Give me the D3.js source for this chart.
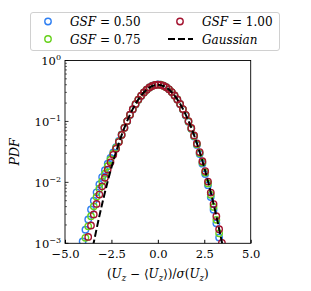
<!DOCTYPE html>
<html>
<head>
<meta charset="utf-8">
<script src="https://cdn.jsdelivr.net/npm/d3@7/dist/d3.min.js"></script>
<style>
  body { margin: 0; background: #fff; }
  svg text { font-family: "DejaVu Serif", "Liberation Serif", serif; fill: #000; }
</style>
</head>
<body>
<svg id="chart" width="311" height="291"></svg>
<script>
// bin centres shared by the three GSF series
var binX = [-4.2, -4.05, -3.9, -3.75, -3.6, -3.45, -3.3, -3.15, -3.0, -2.85, -2.7, -2.55, -2.4, -2.25, -2.1,
  -1.95, -1.8, -1.65, -1.5, -1.35, -1.2, -1.05, -0.9, -0.75, -0.6, -0.45, -0.3, -0.15, 0,
  0.15, 0.3, 0.45, 0.6, 0.75, 0.9, 1.05, 1.2, 1.35, 1.5, 1.65, 1.8, 1.95, 2.1, 2.25, 2.4,
  2.55, 2.7, 2.85, 3.0, 3.15, 3.3, 3.45, 3.6];

var pdfGsf050 = [0.00068, 0.00107, 0.00167, 0.00246, 0.00359, 0.0050, 0.00687, 0.0093, 0.0122, 0.0158, 0.0203, 0.0252, 0.0310, 0.0379, 0.0478,
  0.0612, 0.0790, 0.1010, 0.1275, 0.1570, 0.1905, 0.2260, 0.2625, 0.2985, 0.3320, 0.3620, 0.3850, 0.3990, 0.4040,
  0.4010, 0.3880, 0.3660, 0.3370, 0.3030, 0.2660, 0.2285, 0.1915, 0.1570, 0.1255, 0.0985, 0.0755, 0.0565, 0.0412, 0.0292, 0.0203,
  0.0137, 0.0090, 0.00575, 0.00355, 0.00213, 0.00125, 0.00071, 0.00040];

var pdfGsf075 = [0.00048, 0.00079, 0.00123, 0.0019, 0.00279, 0.00405, 0.00578, 0.0079, 0.01042, 0.0139, 0.0184, 0.0235, 0.0297, 0.0367, 0.0468,
  0.0606, 0.0788, 0.1012, 0.1282, 0.1580, 0.1915, 0.2270, 0.2632, 0.2988, 0.3320, 0.3615, 0.3840, 0.3978, 0.4025,
  0.3998, 0.3865, 0.3650, 0.3365, 0.3030, 0.2665, 0.2292, 0.1925, 0.1582, 0.1270, 0.1000, 0.0768, 0.0578, 0.0424, 0.0303, 0.0212,
  0.0145, 0.0096, 0.00625, 0.00395, 0.00243, 0.00146, 0.00085, 0.00049];

var pdfGsf100 = [0.00032, 0.00050, 0.00081, 0.00127, 0.00196, 0.00298, 0.00443, 0.0063, 0.0086, 0.0119, 0.0162, 0.0213, 0.0283, 0.0355, 0.0459,
  0.0600, 0.0785, 0.1015, 0.1290, 0.1590, 0.1925, 0.2280, 0.2640, 0.2990, 0.3320, 0.3610, 0.3830, 0.3965, 0.4010,
  0.3985, 0.3850, 0.3640, 0.3360, 0.3030, 0.2670, 0.2300, 0.1935, 0.1595, 0.1285, 0.1015, 0.0782, 0.0590, 0.0436, 0.0314, 0.0222,
  0.0153, 0.0103, 0.00680, 0.00440, 0.00278, 0.00170, 0.00102, 0.00060];

// reference gaussian curve
var gaussX = [-3.6, -3.45, -3.3, -3.15, -3.0, -2.85, -2.7, -2.55, -2.4, -2.25, -2.1, -1.95, -1.8, -1.65, -1.5, -1.35, -1.2,
  -1.05, -0.9, -0.75, -0.6, -0.45, -0.3, -0.15, 0, 0.15, 0.3, 0.45, 0.6, 0.75, 0.9, 1.05, 1.2, 1.35, 1.5, 1.65,
  1.8, 1.95, 2.1, 2.25, 2.4, 2.55, 2.7, 2.85, 3.0, 3.15, 3.3, 3.45, 3.6];
var gaussY = [0.000612, 0.00104, 0.00172, 0.00279, 0.00443, 0.00687, 0.01042, 0.01545, 0.0224, 0.0317, 0.0440, 0.0596, 0.0790, 0.1023, 0.1295, 0.1604, 0.1942,
  0.2299, 0.2661, 0.3011, 0.3332, 0.3605, 0.3814, 0.3945, 0.3989, 0.3945, 0.3814, 0.3605, 0.3332, 0.3011, 0.2661, 0.2299, 0.1942, 0.1604, 0.1295, 0.1023,
  0.0790, 0.0596, 0.0440, 0.0317, 0.0224, 0.01545, 0.01042, 0.00687, 0.00443, 0.00279, 0.00172, 0.00104, 0.000612];

var xTicks = [-5, -2.5, 0, 2.5, 5];
var yTicks = [1e-3, 1e-2, 1e-1, 1];
var yTickExp = ["\u22123", "\u22122", "\u22121", "0"];

var series = [
  {label: "0.50", color: "#2f7ff2", values: pdfGsf050},
  {label: "0.75", color: "#66d11a", values: pdfGsf075},
  {label: "1.00", color: "#a3132f", values: pdfGsf100}
];

// note: "top" is reserved on window, so use plot* names
var plotL = 65, plotR = 250.7, plotT = 60.5, plotB = 243.3;

var svg = d3.select("#chart");
var x = d3.scaleLinear().domain([-5, 5]).range([plotL, plotR]);
var y = d3.scaleLog().domain([1e-3, 1]).range([plotB, plotT]);

svg.append("defs").append("clipPath").attr("id", "plotclip")
  .append("rect").attr("x", plotL).attr("y", plotT).attr("width", plotR - plotL).attr("height", plotB - plotT);

var plot = svg.append("g").attr("clip-path", "url(#plotclip)");

series.forEach(function(s) {
  plot.append("g")
    .selectAll("circle")
    .data(binX.map(function(v, i) { return [v, s.values[i]]; }))
    .enter()
    .append("circle")
    .attr("cx", function(d) { return x(d[0]); })
    .attr("cy", function(d) { return y(d[1]); })
    .attr("r", 3.2)
    .attr("fill", "none")
    .attr("stroke", s.color)
    .attr("stroke-width", 1.4);
});

var line = d3.line()
  .x(function(d) { return x(d[0]); })
  .y(function(d) { return y(d[1]); });

plot.append("path")
  .attr("d", line(gaussX.map(function(v, i) { return [v, gaussY[i]]; })))
  .attr("fill", "none")
  .attr("stroke", "#000")
  .attr("stroke-width", 2)
  .attr("stroke-dasharray", "7,3");

// axes, ticks pointing inwards
var xAxis = d3.axisBottom(x).tickValues(xTicks).tickSizeInner(-3.5).tickSizeOuter(0).tickPadding(7)
  .tickFormat(function(d) { return d3.format(".1f")(d).replace("-", "\u2212"); });
var gx = svg.append("g").attr("transform", "translate(0," + plotB + ")").call(xAxis);
gx.select(".domain").remove();
gx.selectAll("text").attr("font-size", 11.5).attr("font-family", "DejaVu Serif");

var minor = [];
for (var e = -3; e < 0; e++) {
  for (var m = 2; m < 10; m++) minor.push(m * Math.pow(10, e));
}
svg.append("g").selectAll("line").data(minor).enter().append("line")
  .attr("x1", plotL).attr("x2", plotL + 2)
  .attr("y1", function(d) { return y(d); }).attr("y2", function(d) { return y(d); })
  .attr("stroke", "#000").attr("stroke-width", 0.6);

svg.append("g").selectAll("line").data(yTicks).enter().append("line")
  .attr("x1", plotL).attr("x2", plotL + 3.5)
  .attr("y1", function(d) { return y(d); }).attr("y2", function(d) { return y(d); })
  .attr("stroke", "#000").attr("stroke-width", 0.8);

var yl = svg.append("g").selectAll("text").data(yTicks).enter().append("text")
  .attr("x", plotL - 4)
  .attr("y", function(d) { return y(d) + 4.5; })
  .attr("text-anchor", "end")
  .attr("font-size", 11.5);
yl.append("tspan").text("10");
yl.append("tspan").attr("dy", -5).attr("font-size", 8).text(function(d, i) { return yTickExp[i]; });

svg.append("rect")
  .attr("x", plotL).attr("y", plotT).attr("width", plotR - plotL).attr("height", plotB - plotT)
  .attr("fill", "none").attr("stroke", "#000").attr("stroke-width", 0.9);

// axis labels
svg.append("text")
  .attr("transform", "translate(19," + ((plotT + plotB) / 2) + ") rotate(-90)")
  .attr("text-anchor", "middle")
  .attr("font-size", 12.5)
  .attr("font-style", "italic")
  .text("PDF");

var xl = svg.append("text").attr("x", (plotL + plotR) / 2).attr("y", 278)
  .attr("text-anchor", "middle").attr("font-size", 12);
function uz(t) {
  t.append("tspan").attr("font-style", "italic").text("U");
  t.append("tspan").attr("font-style", "italic").attr("font-size", 8.5).attr("dy", 2.5).text("z");
}
xl.append("tspan").text("(");
uz(xl);
xl.append("tspan").attr("dy", -2.5).text(" \u2212 \u27e8");
uz(xl);
xl.append("tspan").attr("dy", -2.5).text("\u27e9)/");
xl.append("tspan").attr("font-style", "italic").text("\u03c3");
xl.append("tspan").text("(");
uz(xl);
xl.append("tspan").attr("dy", -2.5).text(")");

// legend
var lg = svg.append("g");
lg.append("rect").attr("x", 30.5).attr("y", 12.5).attr("width", 249).attr("height", 38)
  .attr("rx", 2.5).attr("fill", "#fff").attr("stroke", "#d0d0d0").attr("stroke-width", 1);

var legendPos = [[48, 21.5], [48, 39], [180, 21.5]];
series.forEach(function(s, i) {
  var p = legendPos[i];
  lg.append("circle").attr("cx", p[0]).attr("cy", p[1]).attr("r", 3.2)
    .attr("fill", "none").attr("stroke", s.color).attr("stroke-width", 1.4);
  var t = lg.append("text").attr("x", p[0] + 22).attr("y", p[1] + 4.5).attr("font-size", 12);
  t.append("tspan").attr("font-style", "italic").text("GSF");
  t.append("tspan").text(" = " + s.label);
});
lg.append("line").attr("x1", 168).attr("x2", 193).attr("y1", 39).attr("y2", 39)
  .attr("stroke", "#000").attr("stroke-width", 2).attr("stroke-dasharray", "7,3");
lg.append("text").attr("x", 202).attr("y", 43.5).attr("font-size", 12)
  .attr("font-style", "italic").text("Gaussian");
</script>
</body>
</html>
